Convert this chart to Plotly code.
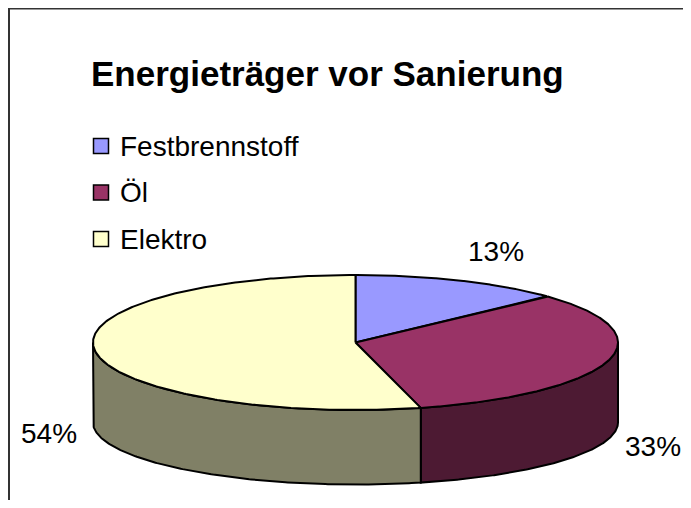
import numpy as np
import plotly.graph_objects as go

# ---- data ----
categories = ["Festbrennstoff", "Öl", "Elektro"]
values = [13, 33, 54]
top_colors = ["#9999FF", "#993366", "#FFFFCC"]
side_colors = ["#4C4C80", "#4D1A33", "#808066"]
title_text = "Energieträger vor Sanierung"

# ---- geometry (page pixel space; page body has an 8px margin) ----
OFF = 8
W, H = 691 - OFF, 508 - 2 * OFF
cx, cy, rx, ry = 355.5, 342.5, 262.5, 67.5
cyb, ryb = 422.5, 62.0          # bottom ellipse (perspective)
FONT = "Liberation Sans, Arial, sans-serif"
LW = 2.0

vals = np.array(values, dtype=float)
fr = vals / vals.sum()
ends = np.cumsum(fr) * 360.0
starts = ends - fr * 360.0


def top_pt(th):
    t = np.radians(th)
    return cx + rx * np.sin(t), cy - ry * np.cos(t)


def bot_pt(th):
    t = np.radians(th)
    return cx + rx * np.sin(t), cyb - ryb * np.cos(t)


fig = go.Figure()

# sides (front half only visible)
for i in range(len(values)):
    a0, a1 = max(starts[i], 90.0), min(ends[i], 270.0)
    if a1 <= a0:
        continue
    th = np.linspace(a0, a1, 200)
    xt, yt = top_pt(th)
    xb, yb = bot_pt(th[::-1])
    xs = np.concatenate([xt, xb, xt[:1]])
    ys = np.concatenate([yt, yb, yt[:1]])
    fig.add_trace(go.Scatter(x=xs, y=ys, mode="lines", fill="toself",
                             fillcolor=side_colors[i],
                             line=dict(color="black", width=LW),
                             hoverinfo="skip", showlegend=False))

# top faces
for i in range(len(values)):
    th = np.linspace(starts[i], ends[i], 300)
    xt, yt = top_pt(th)
    xs = np.concatenate([[cx], xt, [cx]])
    ys = np.concatenate([[cy], yt, [cy]])
    fig.add_trace(go.Scatter(x=xs, y=ys, mode="lines", fill="toself",
                             fillcolor=top_colors[i],
                             line=dict(color="black", width=LW),
                             name=categories[i],
                             hoverinfo="name", showlegend=False))

annotations = []

# percentage labels
for i in range(len(values)):
    mid = np.radians((starts[i] + ends[i]) / 2)
    s, c = np.sin(mid), np.cos(mid)
    lx = cx + 1.06 * rx * s
    if c < 0:
        ly = cy - 1.3 * ry * c + (cyb - cy)
    else:
        ly = cy - 1.3 * ry * c - 10
    annotations.append(dict(x=lx, y=ly, xref="x", yref="y",
                            text=f"{round(fr[i] * 100)}%", showarrow=False,
                            xanchor="left" if s > 0 else "right",
                            yanchor="middle",
                            font=dict(family=FONT, size=28, color="black")))

# legend
leg_x, leg_y0, leg_dy = 101, 146, 46.5
for i, cat in enumerate(categories):
    yy = leg_y0 + i * leg_dy
    fig.add_trace(go.Scatter(x=[leg_x], y=[yy], mode="markers",
                             marker=dict(symbol="square", size=15,
                                         color=top_colors[i],
                                         line=dict(color="black", width=1.5)),
                             hoverinfo="skip", showlegend=False))
    annotations.append(dict(x=leg_x + 17, y=yy, xref="x", yref="y",
                            text=cat, showarrow=False, xanchor="left",
                            yanchor="middle",
                            font=dict(family=FONT, size=28, color="black")))

# title
annotations.append(dict(x=327.5, y=73, xref="x", yref="y",
                        text=f"<b>{title_text}</b>", showarrow=False,
                        xanchor="center", yanchor="middle",
                        font=dict(family=FONT, size=35, color="black")))

fig.update_layout(
    width=W, height=H, autosize=False,
    margin=dict(l=0, r=0, t=0, b=0),
    paper_bgcolor="white", plot_bgcolor="white",
    xaxis=dict(range=[OFF, OFF + W], visible=False, fixedrange=True),
    yaxis=dict(range=[OFF + H, OFF], visible=False, fixedrange=True),
    annotations=annotations,
    shapes=[dict(type="rect", xref="x", yref="y", x0=9, y0=8.5, x1=OFF + W + 20,
                 y1=OFF + H + 20, line=dict(color="#333333", width=2),
                 fillcolor="rgba(0,0,0,0)", layer="below")],
    showlegend=False,
)

fig.write_html("out.html")
